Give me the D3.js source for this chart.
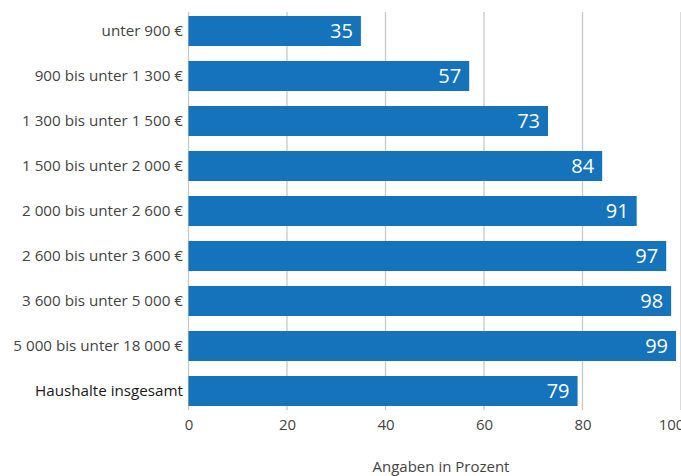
<!DOCTYPE html>
<html><head><meta charset="utf-8">
<script src="https://cdn.jsdelivr.net/npm/d3@7"></script>
<style>
body{margin:0;background:#fff;}
svg{display:block;font-family:"Open Sans",sans-serif;}
</style></head>
<body><svg id="c" width="681" height="476"></svg>
<script>
const categories = ["unter 900 €","900 bis unter 1 300 €","1 300 bis unter 1 500 €","1 500 bis unter 2 000 €","2 000 bis unter 2 600 €","2 600 bis unter 3 600 €","3 600 bis unter 5 000 €","5 000 bis unter 18 000 €","Haushalte insgesamt"];
const values = [35,57,73,84,91,97,98,99,79];
const xTicks = [0,20,40,60,80,100];
const axisTitle = "Angaben in Prozent";

const svg = d3.select("#c");
const x = d3.scaleLinear().domain([0,100]).range([188.5,681]);
const y = d3.scaleBand().domain(categories).range([8.5,413.5]).paddingInner(1/3).paddingOuter(1/6);

// gridlines
svg.append("g").selectAll("line").data(xTicks).join("line")
  .attr("x1",d=>x(d)).attr("x2",d=>x(d)).attr("y1",12).attr("y2",410)
  .attr("stroke","#c8c8c8").attr("stroke-width",1.3);

// bars
svg.append("g").selectAll("rect").data(values).join("rect")
  .attr("x",x(0)).attr("y",(d,i)=>y(categories[i]))
  .attr("width",d=>x(d)-x(0)).attr("height",y.bandwidth())
  .attr("fill","#1473bb");

// value labels
svg.append("g").selectAll("text").data(values).join("text")
  .attr("x",d=>x(d)-8).attr("y",(d,i)=>y(categories[i])+y.bandwidth()/2)
  .attr("dy","0.36em").attr("text-anchor","end")
  .attr("fill","#fff").attr("font-size",20).text(d=>d);

// category labels
svg.append("g").selectAll("text").data(categories).join("text")
  .attr("x",183).attr("y",d=>y(d)+y.bandwidth()/2)
  .attr("dy","0.35em").attr("text-anchor","end")
  .attr("fill",(d,i)=>i===categories.length-1?"#1a1a1a":"#444")
  .attr("font-size",15.2).text(d=>d);

// x axis
const ax = svg.append("g").attr("transform","translate(0,419)")
  .call(d3.axisBottom(x).tickValues(xTicks).tickSize(0).tickPadding(0));
ax.select(".domain").remove();
ax.selectAll("text").attr("font-size",15).attr("fill","#444").attr("font-family","'Open Sans',sans-serif").attr("dy","0.71em")
  .attr("x",d=>d===100?-10:0);

svg.append("text").attr("x",441).attr("y",467).attr("dy","0.35em")
  .attr("text-anchor","middle").attr("font-size",15).attr("fill","#444").text(axisTitle);
</script></body></html>
